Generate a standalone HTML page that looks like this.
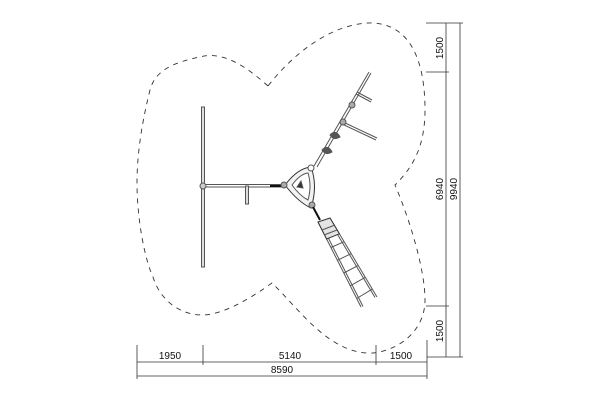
<!DOCTYPE html>
<html><head><style>body{margin:0;background:#fff}svg{display:block}</style></head><body>
<svg width="600" height="400" viewBox="0 0 600 400" xmlns="http://www.w3.org/2000/svg" font-family="Liberation Sans, sans-serif">
<path d="M268,86 C250,70 225,50 200,57 C175,62 155,70 150,90 C140,130 137,160 137,183 C137,220 145,260 153,277 C160,300 180,315 202,315 C225,315 255,295 272,283 C300,310 330,355 373,353 C400,350 425,330 425,300 C425,270 410,220 395,185 C410,170 425,150 425,110 C425,60 410,25 373,23 C340,22 300,45 268,86 Z" fill="none" stroke="#333" stroke-width="0.9" stroke-dasharray="5,5"/>
<g stroke="#555" fill="none" stroke-width="1">
<rect x="201.5" y="107" width="3" height="160" fill="#ddd"/>
<line x1="203" y1="184.5" x2="283" y2="184.5"/><line x1="203" y1="187" x2="283" y2="187"/>
<rect x="245.5" y="186" width="3" height="18" fill="#ddd"/>
<circle cx="203" cy="186" r="3" fill="#ccc"/>
<line x1="270" y1="186" x2="283" y2="186" stroke="#111" stroke-width="2"/>
<path d="M285,185 Q298,168 311,167 Q318,186 311,208 Q298,202 285,185 Z" fill="#f3f3f3" stroke="#333"/>
<path d="M292,185 Q300,174 308,173 Q312,186 308,200 Q300,196 292,185 Z" fill="#fff"/>
<path d="M297,187 L301,181 L303,188 Z" fill="#333"/>
<circle cx="284" cy="185" r="3" fill="#aaa"/><circle cx="311" cy="168" r="3" fill="#fff"/><circle cx="312" cy="205" r="3" fill="#aaa"/>
<line x1="314" y1="166" x2="369" y2="72"/><line x1="317" y1="167" x2="371" y2="73"/>
<line x1="357" y1="92" x2="372" y2="100"/><line x1="356" y1="94" x2="371" y2="102"/>
<line x1="343" y1="122" x2="377" y2="138"/><line x1="342" y1="124" x2="376" y2="140"/>
<circle cx="343" cy="122" r="3" fill="#aaa"/><circle cx="352" cy="105" r="3" fill="#aaa"/>
<path d="M322,150 q6,-6 10,2 q-6,4 -10,-2z M330,135 q6,-6 10,2 q-6,4 -10,-2z" fill="#555"/>
<line x1="313" y1="207" x2="320" y2="220" stroke="#111" stroke-width="2"/>
<line x1="318" y1="222" x2="361" y2="307"/><line x1="330" y1="218" x2="377" y2="297"/>
<line x1="320" y1="221.5" x2="363" y2="306.5"/><line x1="328" y1="218.5" x2="375" y2="297.5"/>
<polygon points="318,222 330,218 339.4,233.8 326.6,239" fill="#e4e4e4" stroke="#333"/>
<line x1="322" y1="230" x2="335" y2="225"/><line x1="324" y1="235" x2="337" y2="230"/>
<line x1="330.9" y1="247.5" x2="344.1" y2="241.7"/><line x1="337.4" y1="260.3" x2="351.2" y2="253.6"/><line x1="343.8" y1="273" x2="358.2" y2="265.4"/><line x1="350.3" y1="285.8" x2="365.3" y2="277.3"/><line x1="356.7" y1="298.5" x2="372.3" y2="289.1"/>
</g>
<g stroke="#333" stroke-width="0.8">
<line x1="137" y1="362" x2="427" y2="362"/><line x1="137" y1="376" x2="427" y2="376"/>
<line x1="137" y1="345" x2="137" y2="379"/><line x1="203" y1="345" x2="203" y2="365"/>
<line x1="376" y1="345" x2="376" y2="365"/><line x1="427" y1="340" x2="427" y2="379"/>
<line x1="446" y1="23" x2="446" y2="357"/><line x1="460" y1="23" x2="460" y2="357"/>
<line x1="426" y1="23" x2="463" y2="23"/><line x1="426" y1="72" x2="449" y2="72"/>
<line x1="426" y1="306" x2="449" y2="306"/><line x1="427" y1="357" x2="463" y2="357"/>
</g>
<g font-size="10" fill="#111" text-anchor="middle">
<text x="170" y="359">1950</text><text x="290" y="359">5140</text><text x="401" y="359">1500</text><text x="282" y="373">8590</text>
<text transform="translate(443,48) rotate(-90)">1500</text>
<text transform="translate(443,189) rotate(-90)">6940</text>
<text transform="translate(457,189) rotate(-90)">9940</text>
<text transform="translate(443,331) rotate(-90)">1500</text>
</g>
</svg>
</body></html>
